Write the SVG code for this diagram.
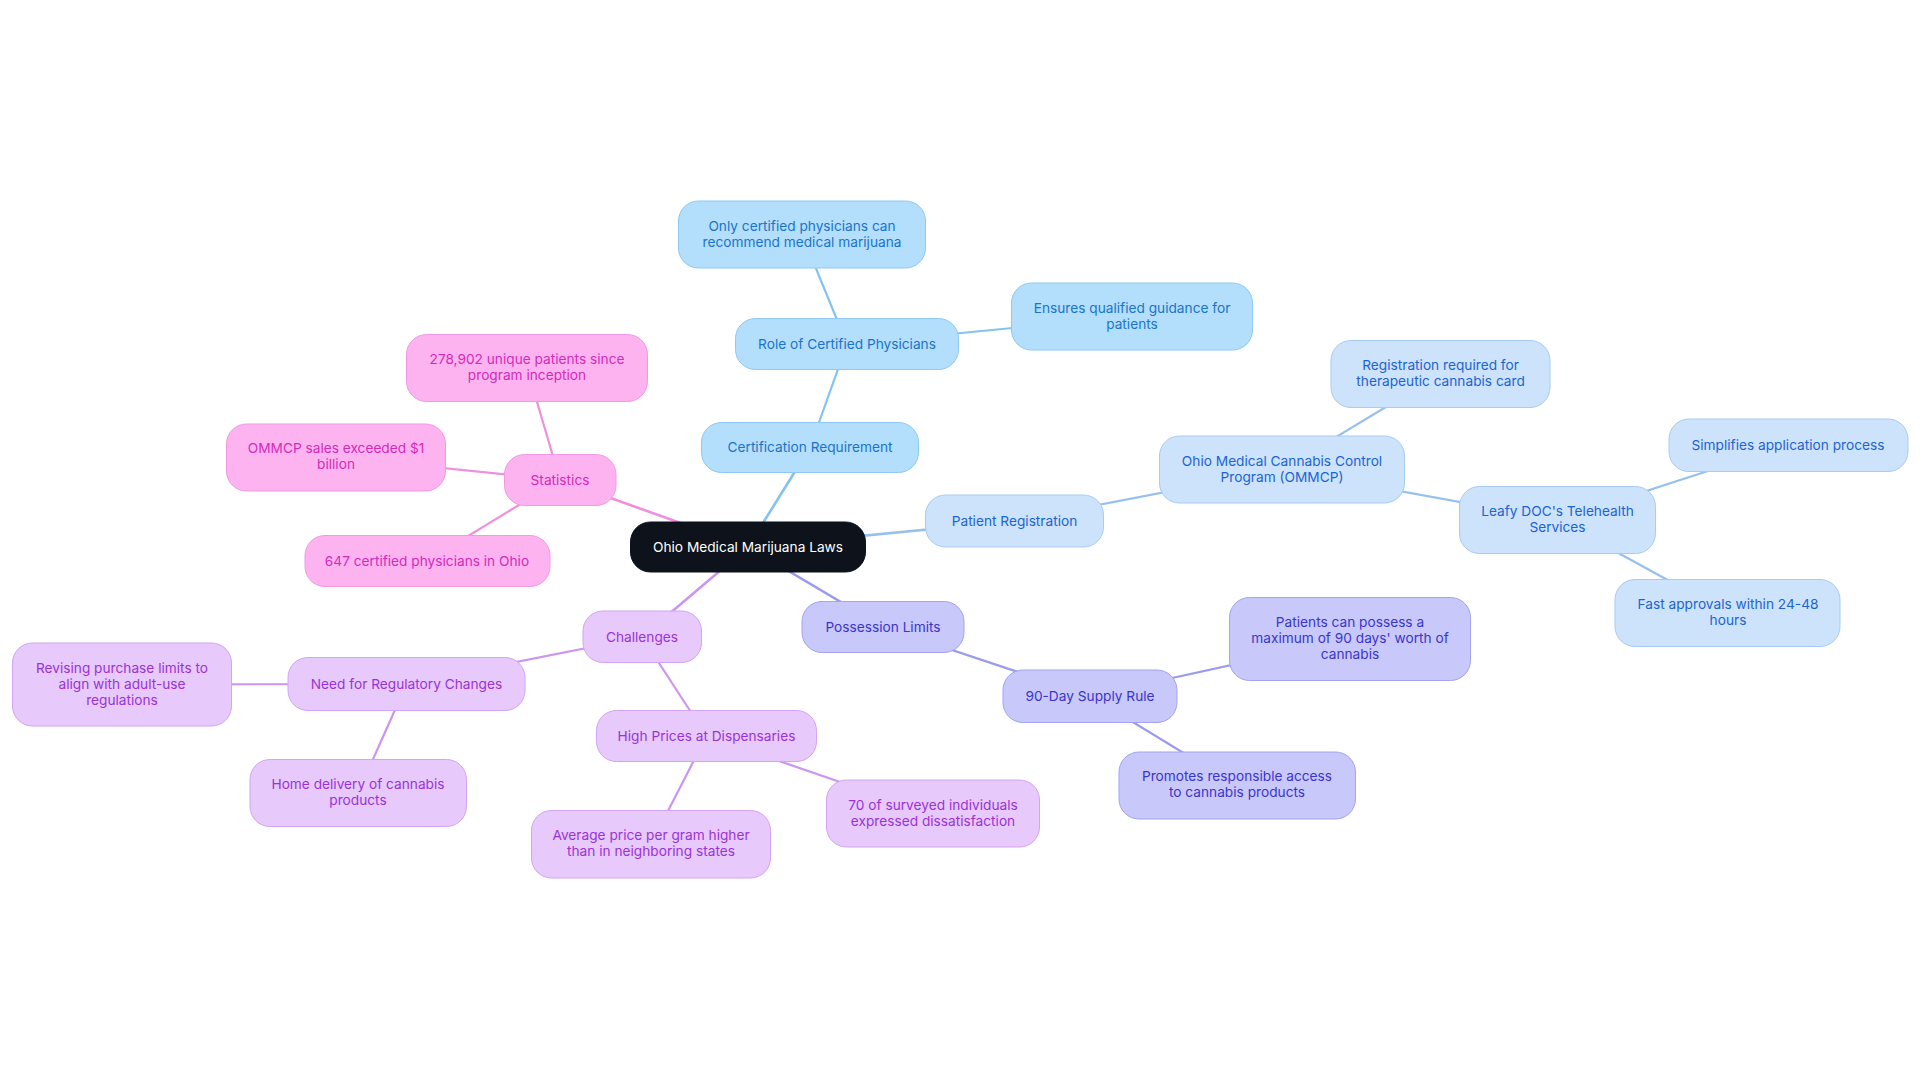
<svg xmlns="http://www.w3.org/2000/svg" width="1920" height="1083" viewBox="0 0 1920 1083">
<style>
text{font-family:Inter,"Liberation Sans",sans-serif;font-size:13.7px;text-anchor:middle}
.e{fill:none;stroke-linecap:round}
.e1{stroke-width:2.6}
.e2{stroke-width:2.2}
.root rect{fill:#0d121b;stroke:#0d121b}
.root text{fill:#ffffff}
.c rect{fill:#b3dffc;stroke:#8ec8f3;stroke-width:1}
.c text{fill:#1a74c9}
.ce{stroke:#84c2f0}
.p rect{fill:#cde3fb;stroke:#a7cbf3;stroke-width:1}
.p text{fill:#1c64d2}
.pe{stroke:#96c0f0}
.q rect{fill:#c8c8fb;stroke:#a3a3f1;stroke-width:1}
.q text{fill:#3b35c9}
.qe{stroke:#9b9bee}
.h rect{fill:#e7c9fb;stroke:#d2a4f3;stroke-width:1}
.h text{fill:#9a33d6}
.he{stroke:#cb95f0}
.s rect{fill:#fcb3f0;stroke:#f199e3;stroke-width:1}
.s text{fill:#d42bb8}
.se{stroke:#ef8fde}
</style>
<rect width="1920" height="1083" fill="#ffffff"/>
<g id="connectors">
<line class="e e1 ce" x1="748" y1="547" x2="810" y2="447.5"/>
<line class="e e2 ce" x1="810" y1="447.5" x2="847" y2="344"/>
<line class="e e2 ce" x1="847" y1="344" x2="802" y2="234.5"/>
<line class="e e2 ce" x1="847" y1="344" x2="1132" y2="316.5"/>
<line class="e e1 pe" x1="748" y1="547" x2="1014.5" y2="521"/>
<line class="e e2 pe" x1="1014.5" y1="521" x2="1282" y2="469.6"/>
<line class="e e2 pe" x1="1282" y1="469.6" x2="1440.6" y2="374"/>
<line class="e e2 pe" x1="1282" y1="469.6" x2="1557.5" y2="519.8"/>
<line class="e e2 pe" x1="1557.5" y1="519.8" x2="1788" y2="445"/>
<line class="e e2 pe" x1="1557.5" y1="519.8" x2="1728" y2="613"/>
<line class="e e1 qe" x1="748" y1="547" x2="883" y2="627"/>
<line class="e e2 qe" x1="883" y1="627" x2="1090" y2="696"/>
<line class="e e2 qe" x1="1090" y1="696" x2="1350" y2="639"/>
<line class="e e2 qe" x1="1090" y1="696" x2="1237" y2="785.5"/>
<line class="e e1 he" x1="748" y1="547" x2="642" y2="637"/>
<line class="e e2 he" x1="642" y1="637" x2="406.5" y2="684"/>
<line class="e e2 he" x1="406.5" y1="684" x2="122" y2="684.5"/>
<line class="e e2 he" x1="406.5" y1="684" x2="358" y2="793"/>
<line class="e e2 he" x1="642" y1="637" x2="706.5" y2="736"/>
<line class="e e2 he" x1="706.5" y1="736" x2="651" y2="844"/>
<line class="e e2 he" x1="706.5" y1="736" x2="933" y2="814"/>
<line class="e e1 se" x1="748" y1="547" x2="560" y2="480"/>
<line class="e e2 se" x1="560" y1="480" x2="527" y2="368"/>
<line class="e e2 se" x1="560" y1="480" x2="336" y2="457"/>
<line class="e e2 se" x1="560" y1="480" x2="427" y2="561"/>
</g>
<g id="root" class="root"><rect x="630.5" y="522" width="235" height="50" rx="20"/><text x="748" y="551.5">Ohio Medical Marijuana Laws</text></g>
<g id="cert" class="c"><rect x="701.5" y="422.5" width="217" height="50" rx="20"/><text x="810" y="452">Certification Requirement</text></g>
<g id="role" class="c"><rect x="735.5" y="318.5" width="223" height="51" rx="20"/><text x="847" y="348.5">Role of Certified Physicians</text></g>
<g id="only" class="c"><rect x="678.5" y="201" width="247" height="67" rx="20"/><text x="802" y="230.5">Only certified physicians can</text><text x="802" y="246.5">recommend medical marijuana</text></g>
<g id="ensures" class="c"><rect x="1011.5" y="283" width="241" height="67" rx="20"/><text x="1132" y="312.5">Ensures qualified guidance for</text><text x="1132" y="328.5">patients</text></g>
<g id="patreg" class="p"><rect x="925.5" y="495" width="178" height="52" rx="20"/><text x="1014.5" y="525.5">Patient Registration</text></g>
<g id="ommcp" class="p"><rect x="1159.5" y="436" width="245" height="67" rx="20"/><text x="1282" y="465.5">Ohio Medical Cannabis Control</text><text x="1282" y="481.5">Program (OMMCP)</text></g>
<g id="regreq" class="p"><rect x="1331" y="340.5" width="219" height="67" rx="20"/><text x="1440.6" y="370">Registration required for</text><text x="1440.6" y="386">therapeutic cannabis card</text></g>
<g id="leafy" class="p"><rect x="1459.5" y="486.5" width="196" height="67" rx="20"/><text x="1557.5" y="515.5">Leafy DOC's Telehealth</text><text x="1557.5" y="531.5">Services</text></g>
<g id="simpl" class="p"><rect x="1669" y="419" width="239" height="52.5" rx="20"/><text x="1788" y="449.5">Simplifies application process</text></g>
<g id="fast" class="p"><rect x="1615" y="579.5" width="225" height="67" rx="20"/><text x="1728" y="609">Fast approvals within 24-48</text><text x="1728" y="625">hours</text></g>
<g id="poss" class="q"><rect x="802" y="601.5" width="162" height="51" rx="20"/><text x="883" y="631.5">Possession Limits</text></g>
<g id="supply" class="q"><rect x="1003" y="670" width="174" height="52.5" rx="20"/><text x="1090" y="700.5">90-Day Supply Rule</text></g>
<g id="maxpos" class="q"><rect x="1229.5" y="597.5" width="241" height="83" rx="20"/><text x="1350" y="627">Patients can possess a</text><text x="1350" y="643">maximum of 90 days' worth of</text><text x="1350" y="659">cannabis</text></g>
<g id="promotes" class="q"><rect x="1119" y="752" width="236.5" height="67" rx="20"/><text x="1237" y="781">Promotes responsible access</text><text x="1237" y="797">to cannabis products</text></g>
<g id="chall" class="h"><rect x="583" y="611" width="118.5" height="51.5" rx="20"/><text x="642" y="641.5">Challenges</text></g>
<g id="needreg" class="h"><rect x="288" y="657.5" width="237" height="53" rx="20"/><text x="406.5" y="688.5">Need for Regulatory Changes</text></g>
<g id="revising" class="h"><rect x="12.5" y="643" width="219" height="83" rx="20"/><text x="122" y="672.5">Revising purchase limits to</text><text x="122" y="688.5">align with adult-use</text><text x="122" y="704.5">regulations</text></g>
<g id="homedel" class="h"><rect x="250" y="759.5" width="216.5" height="67" rx="20"/><text x="358" y="788.5">Home delivery of cannabis</text><text x="358" y="804.5">products</text></g>
<g id="highprice" class="h"><rect x="596.5" y="710.5" width="220" height="51" rx="20"/><text x="706.5" y="740.5">High Prices at Dispensaries</text></g>
<g id="avgprice" class="h"><rect x="531.5" y="810.5" width="239" height="67.5" rx="20"/><text x="651" y="840">Average price per gram higher</text><text x="651" y="856">than in neighboring states</text></g>
<g id="surveyed" class="h"><rect x="826.5" y="780" width="213" height="67" rx="20"/><text x="933" y="809.5">70 of surveyed individuals</text><text x="933" y="825.5">expressed dissatisfaction</text></g>
<g id="stats" class="s"><rect x="504.5" y="454.5" width="111.5" height="51" rx="20"/><text x="560" y="484.5">Statistics</text></g>
<g id="patients" class="s"><rect x="406.5" y="334.5" width="241" height="67" rx="20"/><text x="527" y="364">278,902 unique patients since</text><text x="527" y="380">program inception</text></g>
<g id="sales" class="s"><rect x="226.5" y="424" width="219" height="67" rx="20"/><text x="336" y="453">OMMCP sales exceeded $1</text><text x="336" y="469">billion</text></g>
<g id="phys" class="s"><rect x="305" y="535.5" width="245" height="51" rx="20"/><text x="427" y="565.5">647 certified physicians in Ohio</text></g>
</svg>
